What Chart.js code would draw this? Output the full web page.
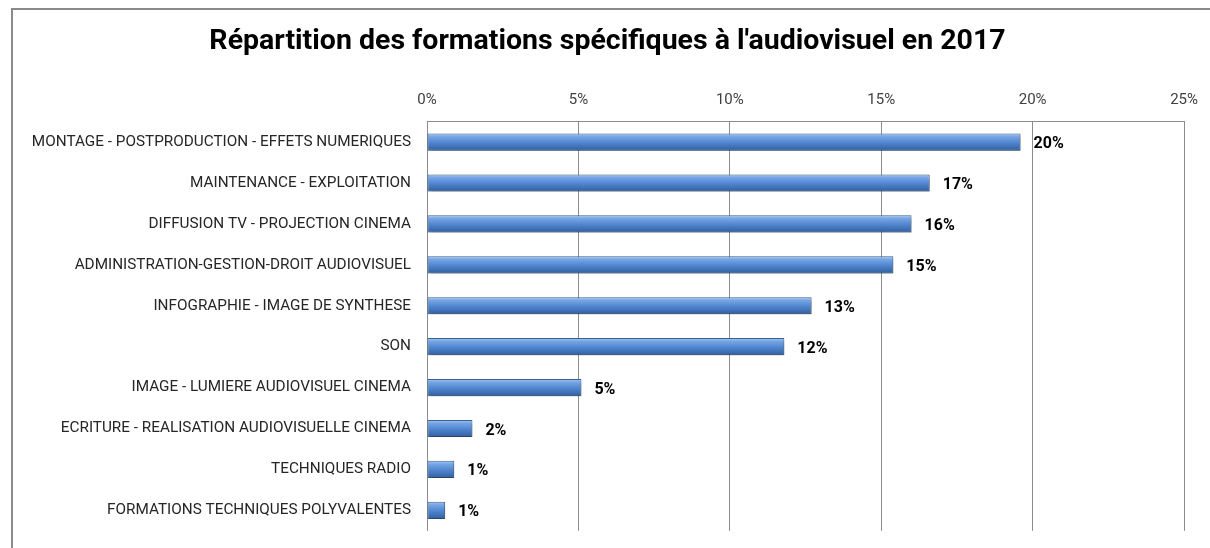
<!DOCTYPE html>
<html lang="fr">
<head>
    <meta charset="UTF-8">
    <title>Répartition des formations spécifiques à l'audiovisuel en 2017</title>
    <script src="https://cdn.jsdelivr.net/npm/chart.js"></script>
    <style>
        html, body {
            margin: 0;
            padding: 0;
            background: #fff;
            overflow: hidden;
        }
        /* outer frame of the chart */
        #frame {
            position: absolute;
            left: 11px;
            top: 8px;
            width: 1300px;
            height: 700px;
            border: 2px solid #8a8a8a;
        }
        #chart-box {
            position: absolute;
            left: 0;
            top: 0;
            width: 1210px;
            height: 548px;
        }
    </style>
</head>
<body>
    <div id="frame"></div>
    <div id="chart-box">
        <canvas id="formChart"></canvas>
    </div>

    <script>
        // Data
        const categories = [
            'MONTAGE - POSTPRODUCTION - EFFETS NUMERIQUES',
            'MAINTENANCE - EXPLOITATION',
            'DIFFUSION TV - PROJECTION CINEMA',
            'ADMINISTRATION-GESTION-DROIT AUDIOVISUEL',
            'INFOGRAPHIE - IMAGE DE SYNTHESE',
            'SON',
            'IMAGE - LUMIERE AUDIOVISUEL CINEMA',
            'ECRITURE - REALISATION AUDIOVISUELLE CINEMA',
            'TECHNIQUES RADIO',
            'FORMATIONS TECHNIQUES POLYVALENTES'
        ];
        const shares = [19.6, 16.6, 16.0, 15.4, 12.7, 11.8, 5.1, 1.5, 0.9, 0.6];
        const xTicks = [0, 5, 10, 15, 20, 25];

        const FONT = "'Roboto', sans-serif";

        // 3D-ish gradient + shadow on each bar, like the office chart
        const barLook = {
            id: 'barLook',
            beforeDatasetDraw(chart, args) {
                const ctx = chart.ctx;
                args.meta.data.forEach(bar => {
                    const h = bar.height;
                    const g = ctx.createLinearGradient(0, bar.y - h / 2, 0, bar.y + h / 2);
                    g.addColorStop(0, '#a7c6f0');
                    g.addColorStop(0.2, '#74a4e4');
                    g.addColorStop(0.55, '#4f85cf');
                    g.addColorStop(1, '#2f5f9e');
                    bar.options.backgroundColor = g;
                });
                ctx.save();
                ctx.shadowColor = 'rgba(0, 0, 0, 0.35)';
                ctx.shadowBlur = 4;
                ctx.shadowOffsetY = 3;
                ctx.shadowOffsetX = 1;
            },
            afterDatasetDraw(chart) {
                chart.ctx.restore();
            }
        };

        // bold value labels at the end of each bar
        const valueLabels = {
            id: 'valueLabels',
            afterDatasetsDraw(chart) {
                const ctx = chart.ctx;
                const meta = chart.getDatasetMeta(0);
                ctx.save();
                ctx.font = "bold 16px " + FONT;
                ctx.fillStyle = '#000';
                ctx.textBaseline = 'middle';
                ctx.textAlign = 'left';
                meta.data.forEach((bar, i) => {
                    ctx.fillText(Math.round(shares[i]) + '%', bar.x + 13, bar.y + 2);
                });
                ctx.restore();
            }
        };

        const ctx = document.getElementById('formChart').getContext('2d');
        new Chart(ctx, {
            type: 'bar',
            data: {
                labels: categories,
                datasets: [{
                    data: shares,
                    // scriptable so each bar keeps its own options object
                    backgroundColor: c => '#4f85cf',
                    borderColor: '#3a6396',
                    borderWidth: 1,
                    borderSkipped: false,
                    barPercentage: 0.42,
                    categoryPercentage: 1
                }]
            },
            options: {
                indexAxis: 'y',
                responsive: true,
                maintainAspectRatio: false,
                animation: false,
                // left padding + y width keep the plot at x=427 and centre the title
                layout: {
                    padding: { left: 24, right: 19, top: 0, bottom: 15 }
                },
                scales: {
                    x: {
                        position: 'top',
                        min: 0,
                        max: 25,
                        afterBuildTicks: axis => {
                            axis.ticks = xTicks.map(v => ({ value: v }));
                        },
                        afterFit: axis => { axis.height = 52.4; },
                        grid: {
                            color: '#8c8c8c',
                            lineWidth: 1,
                            drawTicks: false
                        },
                        border: { display: true, color: '#8c8c8c', width: 1 },
                        ticks: {
                            padding: 12,
                            color: '#404040',
                            font: { family: FONT, size: 15 },
                            callback: v => v + '%'
                        }
                    },
                    y: {
                        afterFit: axis => { axis.width = 403; },
                        grid: { display: false },
                        border: { display: true, color: '#8c8c8c', width: 1 },
                        ticks: {
                            padding: 8,
                            color: '#262626',
                            font: { family: FONT, size: 15.3 }
                        }
                    }
                },
                plugins: {
                    legend: { display: false },
                    tooltip: { enabled: false },
                    title: {
                        display: true,
                        text: "Répartition des formations spécifiques à l'audiovisuel en 2017",
                        color: '#000',
                        font: { family: FONT, size: 28.5, weight: 'bold' },
                        padding: { top: 25, bottom: 10 }
                    }
                }
            },
            plugins: [barLook, valueLabels]
        });
    </script>
</body>
</html>
